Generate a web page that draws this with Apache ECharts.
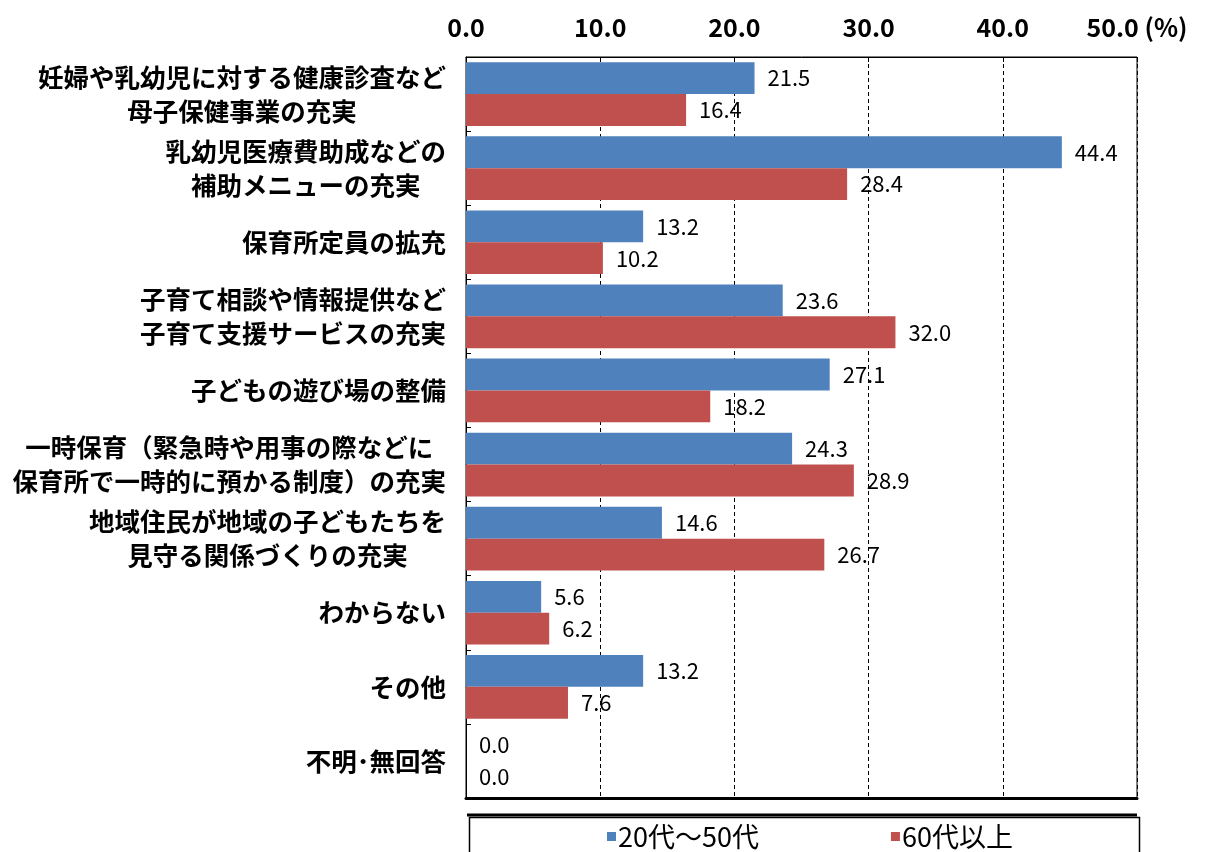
<!DOCTYPE html>
<html>
<head>
<meta charset="utf-8">
<script src="https://cdn.jsdelivr.net/npm/echarts@6/dist/echarts.min.js"></script>
<style>html,body{margin:0;padding:0;background:#fff}#c{width:1217px;height:852px}</style>
</head>
<body>
<div id="c"></div>
<script>
var categories = [
  '妊婦や乳幼児に対する健康診査など\n母子保健事業の充実',
  '乳幼児医療費助成などの\n補助メニューの充実',
  '保育所定員の拡充',
  '子育て相談や情報提供など\n子育て支援サービスの充実',
  '子どもの遊び場の整備',
  '一時保育（緊急時や用事の際などに\n保育所で一時的に預かる制度）の充実',
  '地域住民が地域の子どもたちを\n見守る関係づくりの充実',
  'わからない',
  'その他',
  '不明･無回答'
];
var seriesNames = ['20代〜50代', '60代以上'];
var values2050 = [21.5, 44.4, 13.2, 23.6, 27.1, 24.3, 14.6, 5.6, 13.2, 0.0];
var values60 = [16.4, 28.4, 10.2, 32.0, 18.2, 28.9, 26.7, 6.2, 7.6, 0.0];
var xTicks = [0, 10, 20, 30, 40, 50];
var unitLabel = '(%)';

var FONT = '"Noto Sans CJK JP", "Noto Sans", sans-serif';
var chart = echarts.init(document.getElementById('c'));

var labelStyle = {
  show: true, position: 'right', distance: 13,
  color: '#000', fontSize: 22, fontFamily: FONT,
  formatter: function (p) { return p.value.toFixed(1); }
};

chart.setOption({
  animation: false,
  backgroundColor: '#fff',
  textStyle: { fontFamily: FONT },
  grid: { left: 466, right: 80, top: 57, bottom: 54, show: true, borderColor: '#000', borderWidth: 1, containLabel: false },
  legend: {
    data: seriesNames,
    left: 602, top: 818,
    icon: 'rect', itemWidth: 9, itemHeight: 9, itemGap: 132,
    textStyle: { fontSize: 27, color: '#000', fontFamily: FONT, padding: [0, 0, 0, -3] }
  },
  xAxis: [{
    type: 'value', position: 'top', min: xTicks[0], max: xTicks[xTicks.length - 1], interval: 10,
    axisLine: { show: true, lineStyle: { color: '#000', width: 1 } },
    axisTick: { show: true, inside: true, length: 5, lineStyle: { color: '#000' } },
    axisLabel: {
      margin: 17, fontSize: 25, fontWeight: 'bold', color: '#000', fontFamily: FONT,
      formatter: function (v) { return v === xTicks[xTicks.length - 1] ? v.toFixed(1) + ' ' + unitLabel : v.toFixed(1); }
    },
    splitLine: { show: true, lineStyle: { color: '#000', type: [4, 3], width: 1 } }
  }, {
    type: 'value', position: 'bottom', min: xTicks[0], max: xTicks[xTicks.length - 1], interval: 10,
    axisLine: { show: true, lineStyle: { color: '#000', width: 3 } },
    axisTick: { show: false }, axisLabel: { show: false }, splitLine: { show: false }
  }],
  yAxis: {
    type: 'category', data: categories, inverse: true,
    axisLine: { show: true, lineStyle: { color: '#000', width: 1 } },
    axisTick: { show: true, inside: true, length: 5, lineStyle: { color: '#000' } },
    axisLabel: {
      margin: 20, align: 'right', color: '#000',
      formatter: function (v) {
        return v.split('\n').map(function (s) { return '{c|' + s + '}'; }).join('\n');
      },
      rich: { c: { align: 'center', fontSize: 25.5, fontWeight: 'bold', lineHeight: 34, color: '#000', fontFamily: FONT } }
    }
  },
  graphic: [
    { type: 'rect', left: 467, top: 815, shape: { width: 670, height: 60 }, style: { fill: 'none', stroke: '#000', lineWidth: 1.5 }, silent: true },
    { type: 'line', shape: { x1: 467, y1: 815, x2: 1137, y2: 815 }, style: { stroke: '#000', lineWidth: 3 }, silent: true }
  ],
  series: [{
    name: seriesNames[0], type: 'bar', data: values2050, xAxisIndex: 0,
    itemStyle: { color: '#4F81BD' }, barGap: '0%', barCategoryGap: '14%',
    label: labelStyle
  }, {
    name: seriesNames[1], type: 'bar', data: values60, xAxisIndex: 0,
    itemStyle: { color: '#C0504D' }, barGap: '0%', barCategoryGap: '14%',
    label: labelStyle
  }]
});
</script>
</body>
</html>
